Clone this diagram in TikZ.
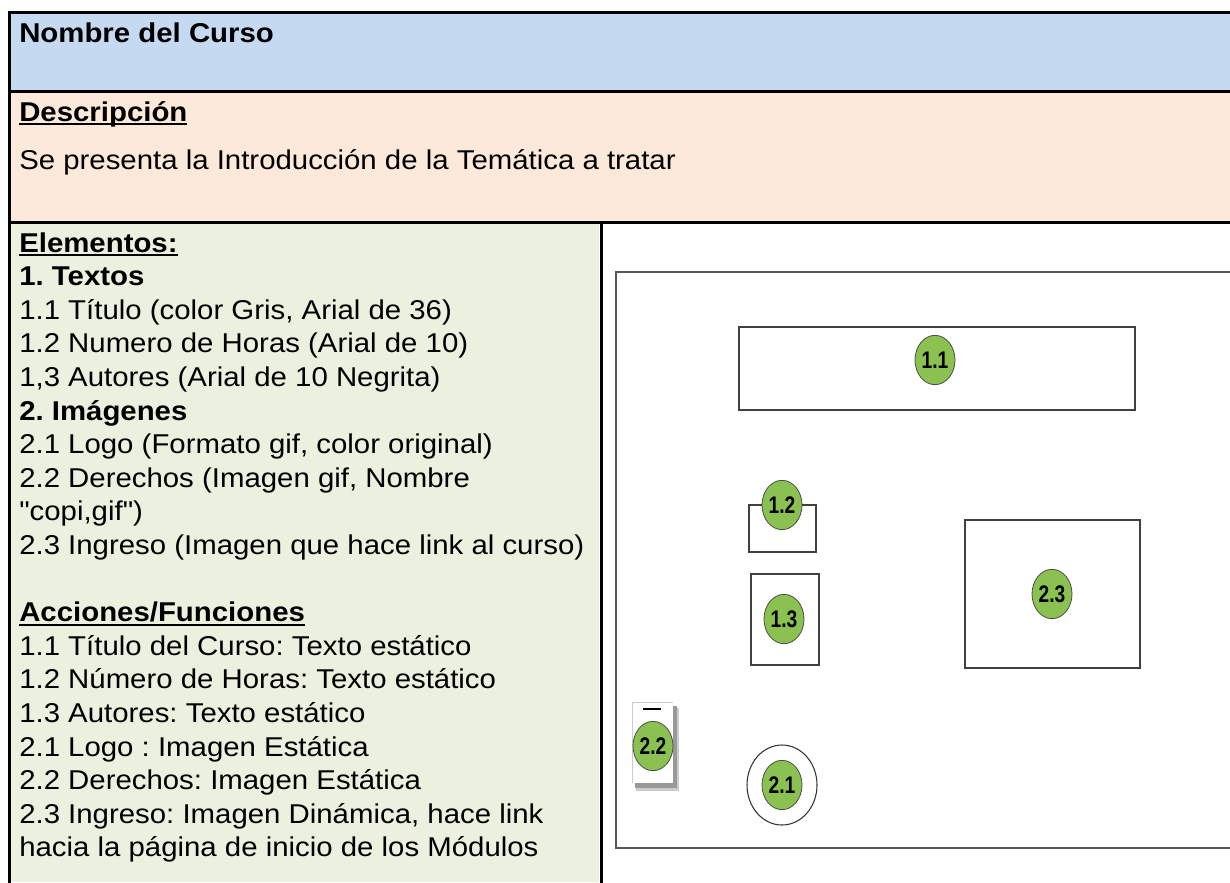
\documentclass[tikz,border=0pt]{standalone}
\usepackage{fontspec}
\setmainfont{Liberation Sans}[FakeStretch=1.08, Ligatures=TeXOff]
\newfontfamily\tagfont{Liberation Sans}[FakeStretch=0.8]
\usetikzlibrary{shapes.geometric}
\frenchspacing

\definecolor{headblue}{HTML}{C5D9F1}
\definecolor{descpeach}{HTML}{FDE9D9}
\definecolor{cellgreen}{HTML}{EBF1DE}
\definecolor{taggreen}{RGB}{139,193,80}

\newcommand{\ulined}[1]{\setbox0\hbox{#1}\rlap{\rule[-3pt]{\wd0}{1.4pt}}\box0}

\tikzstyle{every node}=[inner sep=0pt, font=\fontsize{20.4pt}{25.2pt}\selectfont]
\tikzstyle{txtline}=[anchor=base west]
\tikzstyle{tag}=[ellipse, draw=black!70, line width=0.6pt, fill=taggreen, minimum width=30pt, minimum height=37pt, font=\tagfont\bfseries\fontsize{18pt}{18pt}\selectfont]
\tikzstyle{slot}=[draw=black!75, line width=0.9pt]
\tikzstyle{border}=[line width=2.25pt]

\begin{document}
\begin{tikzpicture}[x=0.75pt, y=-0.75pt]
  \useasboundingbox (0,0) rectangle (1230,882);
  \fill[white] (0,0) rectangle (1230,882);

  % cells of the table
  \fill[headblue] (9,12) rectangle (1230,91);
  \fill[descpeach] (9,91) rectangle (1230,222);
  \fill[cellgreen] (9,222) rectangle (599,882);
  \draw[border] (9,884) -- (9,12) -- (1232,12);
  \draw[border] (9,91) -- (1232,91);
  \draw[border] (9,222) -- (1232,222);
  \draw[border] (601,222) -- (601,884);

  \node[txtline] (curso) at (19,42) {\textbf{Nombre del Curso}};
  \node[txtline] (desc) at (19,121) {\ulined{\textbf{Descripción}}};
  \node[txtline] (intro) at (19,169) {Se presenta la Introducción de la Temática a tratar};

  % elementos
  \foreach \txt [count=\i] in {{\ulined{\textbf{Elementos:}}}, {\textbf{1. Textos}},
      {1.1 Título (color Gris, Arial de 36)}, {1.2 Numero de Horas (Arial de 10)},
      {1,3 Autores (Arial de 10 Negrita)}, {\textbf{2. Imágenes}},
      {2.1 Logo (Formato gif, color original)}, {2.2 Derechos (Imagen gif, Nombre},
      {"copi,gif")}, {2.3 Ingreso (Imagen que hace link al curso)}}
    \node[txtline] (elem\i) at (19,{252+33.6*(\i-1)}) {\txt};

  % acciones
  \foreach \txt [count=\i] in {{\ulined{\textbf{Acciones/Funciones}}},
      {1.1 Título del Curso: Texto estático}, {1.2 Número de Horas: Texto estático},
      {1.3 Autores: Texto estático}, {2.1 Logo : Imagen Estática},
      {2.2 Derechos: Imagen Estática}, {2.3 Ingreso: Imagen Dinámica, hace link},
      {hacia la página de inicio de los Módulos}}
    \node[txtline] (acc\i) at (19,{621.6+33.6*(\i-1)}) {\txt};

  % maqueta de la pagina
  \draw[line width=1.1pt, black!65] (1232,272) -- (616,272) -- (616,848) -- (1232,848);
  \draw[slot] (739,327) rectangle (1135,410);
  \draw[slot] (749,505) rectangle (816,552);
  \draw[slot] (751,574) rectangle (819,665);
  \draw[slot] (965,520) rectangle (1140,668);

  \fill[black!20] (636,708) rectangle (679,791);
  \fill[black!40] (635,706) rectangle (677,788);
  \fill[white] (632,702) rectangle (673,783);
  \draw[black!20, line width=0.6pt] (632,783) -- (632,702) -- (673,702);
  \draw[line width=0.8pt] (643,709) -- (661,709);
  \node[ellipse, draw=black!80, line width=0.8pt, minimum width=52.5pt, minimum height=60pt] (logo) at (782,785) {};

  \node[tag] (t11) at (935,360) {1.1};
  \node[tag] (t12) at (782,505) {1.2};
  \node[tag] (t13) at (784,619) {1.3};
  \node[tag] (t23) at (1052,594) {2.3};
  \node[tag] (t22) at (653,746) {2.2};
  \node[tag] (t21) at (logo.center) {2.1};
\end{tikzpicture}
\end{document}
